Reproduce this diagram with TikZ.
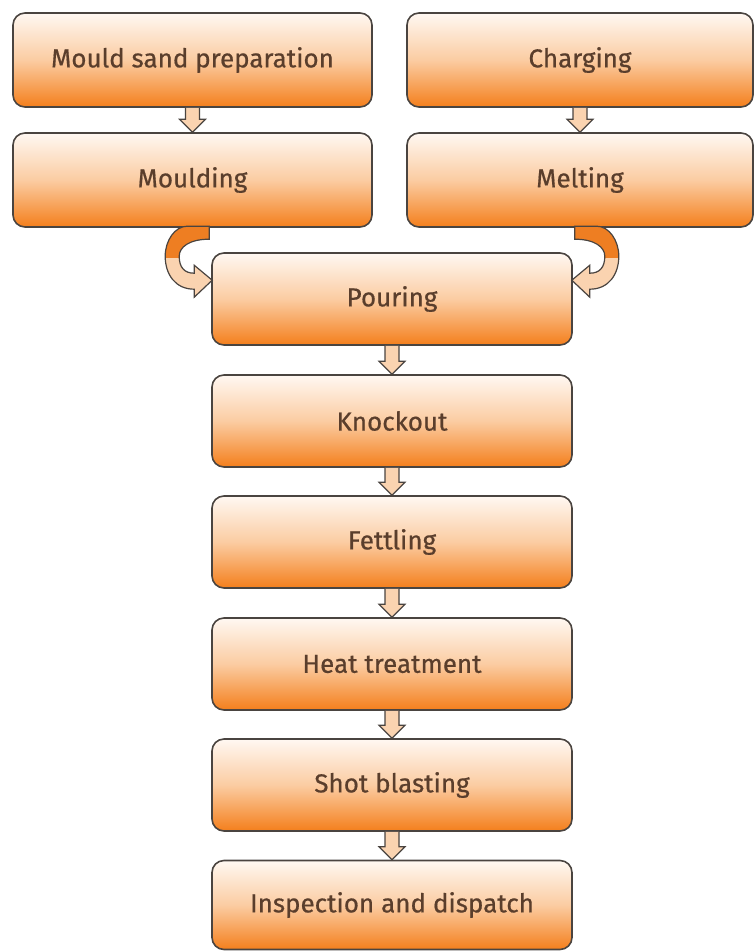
\documentclass[tikz,border=0pt]{standalone}
\usepackage{fontspec}
\setmainfont{Fira Sans}[FakeBold=0.6]
\usetikzlibrary{calc}
\definecolor{boxtop}{HTML}{FFF8F2}
\definecolor{boxmid}{HTML}{FBCCA2}
\definecolor{boxbot}{HTML}{F47F1C}
\definecolor{edgec}{HTML}{4A4440}
\definecolor{txtc}{HTML}{5A3E2C}
\definecolor{arrowfill}{HTML}{FAD3B0}
\definecolor{ribbonor}{HTML}{EE7E22}
\tikzset{
  stepbox/.style={draw=edgec, line width=1.2pt, rounded corners=9pt,
    top color=boxtop, bottom color=boxbot, middle color=boxmid,
    font=\fontsize{19.5}{22}\selectfont, text=txtc, inner sep=0pt},
  leftbox/.style={stepbox, minimum width=359*0.75pt, minimum height=94*0.75pt},
  rightbox/.style={stepbox, minimum width=346*0.75pt, minimum height=94*0.75pt},
  midbox/.style={stepbox, minimum width=360*0.75pt, minimum height=92*0.75pt},
  smallarr/.style={draw=edgec, line width=0.9pt, fill=arrowfill, line join=miter},
  ribbonline/.style={draw=edgec, line width=0.9pt},
}
\newcommand\downarr[2]{%
  \draw[smallarr] ($(#1.south)+(-7,0)$) -- ($(#2.north)+(-7,-13)$)
    -- ($(#2.north)+(-13,-13)$) -- (#2.north) -- ($(#2.north)+(13,-13)$)
    -- ($(#2.north)+(7,-13)$) -- ($(#1.south)+(7,0)$);}
\newcommand\ribbonpath{(-2,-26) -- (-2,-13) .. controls (-22,-13) and (-32,-5) .. (-32,4)
  .. controls (-32,15) and (-27,21) .. (-17,21) -- (-17,13) -- (1,28) -- (-17,45) -- (-17,37)
  .. controls (-36,37) and (-46,22) .. (-46,4) .. controls (-46,-12) and (-36,-26) .. (-24,-26) -- cycle}
\newcommand\ribbon{%
  \fill[arrowfill] \ribbonpath;
  \begin{scope}
    \clip (-60,-30) rectangle (10,5);
    \fill[ribbonor] \ribbonpath;
  \end{scope}
  \draw[ribbonline] \ribbonpath;}
\begin{document}
\begin{tikzpicture}[x=0.75pt,y=-0.75pt]
\useasboundingbox (0,0) rectangle (755,951);
\node[leftbox]  (msp)   at (192.5,60)  {Mould sand preparation};
\node[leftbox]  (mould) at (192.5,180) {Moulding};
\node[rightbox] (charg) at (580,60)    {Charging};
\node[rightbox] (melt)  at (580,180)   {Melting};
\node[midbox]   (pour)  at (392,299)   {Pouring};
\node[midbox]   (knock) at (392,421)   {Knockout};
\node[midbox]   (fett)  at (392,542)   {Fettling};
\node[midbox]   (heat)  at (392,664)   {Heat treatment};
\node[midbox]   (shot)  at (392,785)   {Shot blasting};
\node[stepbox, minimum width=360*0.75pt, minimum height=89*0.75pt] (insp) at (392,905) {Inspection and dispatch};
\downarr{msp}{mould}
\downarr{charg}{melt}
\downarr{pour}{knock}
\downarr{knock}{fett}
\downarr{fett}{heat}
\downarr{heat}{shot}
\downarr{shot}{insp}
\begin{scope}[shift={(pour.north west)}]
  \ribbon
\end{scope}
\begin{scope}[shift={(pour.north east)}, xscale=-1]
  \ribbon
\end{scope}
\end{tikzpicture}
\end{document}
